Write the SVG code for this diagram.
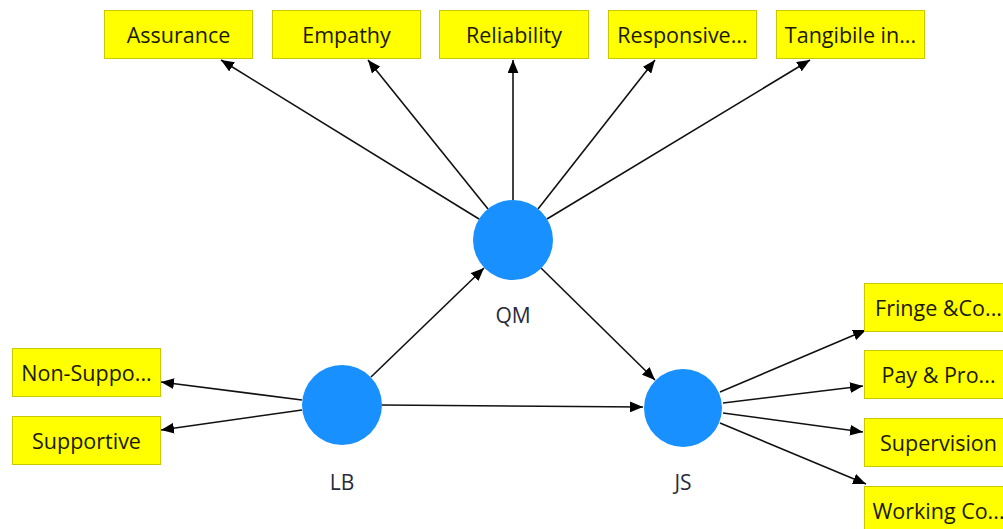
<svg xmlns="http://www.w3.org/2000/svg" width="1003" height="529" viewBox="0 0 1003 529">
<defs>
<style>
.box{fill:#ffff00;stroke:#c8c800;stroke-width:1}
.bt{font-family:"Open Sans","Noto Sans","DejaVu Sans",sans-serif;font-size:21.5px;fill:#1a1a00;text-anchor:middle}
.lv{fill:#1890ff}
.lt{font-family:"Open Sans","Noto Sans","DejaVu Sans",sans-serif;font-size:21px;fill:#2a2a3a;text-anchor:middle}
.c{stroke:#111;stroke-width:1.6;fill:none;marker-end:url(#ah)}
</style>
<marker id="ah" viewBox="0 0 12 10" refX="12" refY="5" markerWidth="13" markerHeight="11" orient="auto" markerUnits="userSpaceOnUse">
<path d="M0,0 L12,5 L0,10 Z" fill="#000"/>
</marker>
</defs>
<g id="connectors">
<line class="c" x1="479" y1="219" x2="221" y2="60"/>
<line class="c" x1="488" y1="209" x2="368" y2="60"/>
<line class="c" x1="513" y1="200" x2="513" y2="60"/>
<line class="c" x1="538" y1="209" x2="655" y2="60"/>
<line class="c" x1="547" y1="219" x2="810" y2="60"/>
<line class="c" x1="541" y1="268" x2="655" y2="380"/>
<line class="c" x1="371" y1="377" x2="484" y2="268"/>
<line class="c" x1="382" y1="405" x2="643" y2="407"/>
<line class="c" x1="302" y1="400" x2="161" y2="382"/>
<line class="c" x1="302" y1="410" x2="161" y2="430"/>
<line class="c" x1="720" y1="392" x2="866" y2="330"/>
<line class="c" x1="723" y1="403" x2="863" y2="386"/>
<line class="c" x1="723" y1="413" x2="863" y2="432"/>
<line class="c" x1="720" y1="423" x2="866" y2="484"/>
</g>
<g id="Assurance"><rect class="box" x="104.5" y="10.5" width="148" height="48"/><text class="bt" x="178.5" y="42.5">Assurance</text></g>
<g id="Empathy"><rect class="box" x="272.5" y="10.5" width="148" height="48"/><text class="bt" x="346.5" y="42.5">Empathy</text></g>
<g id="Reliability"><rect class="box" x="439.5" y="10.5" width="149" height="48"/><text class="bt" x="514" y="42.5">Reliability</text></g>
<g id="Responsiveness"><rect class="box" x="608.5" y="10.5" width="148" height="48"/><text class="bt" x="682.5" y="42.5">Responsive...</text></g>
<g id="Tangibile"><rect class="box" x="776.5" y="10.5" width="148" height="48"/><text class="bt" x="850.5" y="42.5">Tangibile in...</text></g>
<g id="NonSupportive"><rect class="box" x="12.5" y="348.5" width="148" height="48"/><text class="bt" x="86.5" y="380.5">Non-Suppo...</text></g>
<g id="Supportive"><rect class="box" x="12.5" y="416.5" width="148" height="48"/><text class="bt" x="86.5" y="448.5">Supportive</text></g>
<g id="Fringe"><rect class="box" x="864.5" y="283.5" width="148" height="48"/><text class="bt" x="938.5" y="315.5">Fringe &amp;Co...</text></g>
<g id="Pay"><rect class="box" x="864.5" y="350.5" width="148" height="48"/><text class="bt" x="938.5" y="382.5">Pay &amp; Pro...</text></g>
<g id="Supervision"><rect class="box" x="864.5" y="418.5" width="148" height="48"/><text class="bt" x="938.5" y="450.5">Supervision</text></g>
<g id="Working"><rect class="box" x="864.5" y="486.5" width="148" height="48"/><text class="bt" x="938.5" y="518.5">Working Co...</text></g>
<g id="QM"><circle class="lv" cx="513" cy="240" r="40"/><text class="lt" x="513" y="323">QM</text></g>
<g id="LB"><circle class="lv" cx="342" cy="405" r="40"/><text class="lt" x="342" y="490">LB</text></g>
<g id="JS"><circle class="lv" cx="683" cy="408" r="39"/><text class="lt" x="683" y="490">JS</text></g>
</svg>
